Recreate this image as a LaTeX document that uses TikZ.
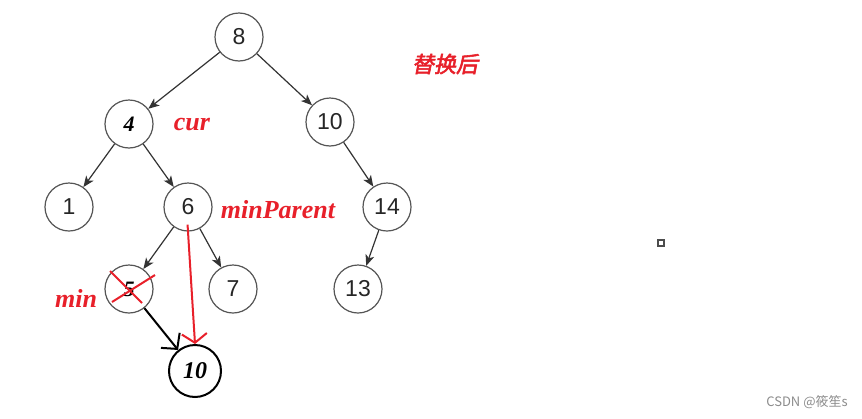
\documentclass[tikz,border=0pt]{standalone}
\usepackage{fontspec}
\setmainfont{Liberation Serif}
\newfontfamily\arialf{Liberation Sans}
\newfontfamily\cjkbi[FakeSlant=0.2,FakeBold=2.5]{Noto Sans CJK SC}
\newfontfamily\cjkf{Noto Sans CJK SC}
\usetikzlibrary{arrows.meta}
\definecolor{redlab}{HTML}{E8202A}
\definecolor{circgray}{HTML}{555555}
\definecolor{edgegray}{HTML}{333333}
\tikzset{
  tnode/.style={circle, draw=circgray, line width=1.2pt, minimum size=48pt, inner sep=0pt,
    font=\arialf\fontsize{23}{23}\selectfont, text=black!85},
  bnode/.style={tnode, text=black, font=\bfseries\itshape\fontsize{22}{22}\selectfont},
  newnode/.style={circle, draw=black, line width=2pt, minimum size=52pt, inner sep=0pt,
    font=\bfseries\itshape\fontsize{24}{24}\selectfont},
  edge/.style={draw=edgegray, line width=1.2pt, -{Stealth[length=11pt,width=9pt,inset=3pt]}},
  redlbl/.style={text=redlab, font=\bfseries\itshape\fontsize{26}{26}\selectfont, inner sep=0pt},
  redx/.style={draw=redlab, line width=2pt},
}
\begin{document}
\begin{tikzpicture}[x=1pt,y=-1pt]
\useasboundingbox (0,0) rectangle (862,418);
\fill[white] (0,0) rectangle (862,418);
\node[tnode] (n8) at (239,37) {8};
\node[bnode] (n4) at (129,124) {4};
\node[tnode] (n10) at (330,122) {10};
\node[tnode] (n1) at (69,207) {1};
\node[tnode] (n6) at (188,207) {6};
\node[tnode] (n14) at (387,207) {14};
\node[bnode] (n5) at (129,289) {5};
\node[tnode] (n7) at (233,289) {7};
\node[tnode] (n13) at (358,289) {13};
\node[newnode] (n10b) at (195,371) {10};

\draw[edge] (n8) -- (n4);
\draw[edge] (n8) -- (n10);
\draw[edge] (n4) -- (n1);
\draw[edge] (n4) -- (n6);
\draw[edge] (n10) -- (n14);
\draw[edge] (n6) -- (n5);
\draw[edge] (n6) -- (n7);
\draw[edge] (n14) -- (n13);

% red X over 5
\coordinate (xa1) at (110,271); \coordinate (xa2) at (142,303);
\coordinate (xb1) at (155,275); \coordinate (xb2) at (112,302);
\draw[redx] (xa1) -- (xa2);
\draw[redx] (xb1) -- (xb2);

% red arrow minParent -> new node
\draw[redx, -{Straight Barb[length=9pt,width=25pt,line width=2pt]}, shorten <=-7pt] (n6.south) -- (n10b.north);
% black arrow min -> new node
\draw[draw=black, line width=2pt, -{Straight Barb[length=11pt,width=24pt,line width=2pt]}] (n5) -- (n10b);

\node[redlbl] (lcur) at (192,125) {cur};
\node[redlbl] (lmp) at (278,210) {minParent};
\node[redlbl] (lmin) at (76,298) {min};
\node[text=redlab, font=\cjkbi\fontsize{22}{22}\selectfont, inner sep=0pt] (ltitle) at (445,64) {替换后};

\node[draw=black!70, line width=1.5pt, fill=white, minimum size=6pt, inner sep=0pt] (sq) at (661,243) {};
\node[text=black!45, font=\cjkf\fontsize{13}{13}\selectfont, inner sep=0pt] (wm) at (807,402) {CSDN @筱笙s};
\end{tikzpicture}
\end{document}
